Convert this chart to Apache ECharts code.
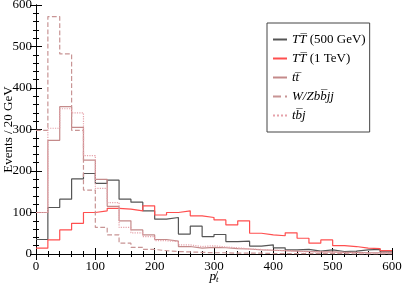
<!DOCTYPE html>
<html><head><meta charset="utf-8">
<script src="https://cdn.jsdelivr.net/npm/echarts@6/dist/echarts.min.js"></script>
<style>html,body{margin:0;padding:0;background:#fff}#c{width:403px;height:284px}</style>
</head><body><div id="c"></div>
<script>
var binLeft = [0,20,40,60,80,100,120,140,160,180,200,220,240,260,280,300,320,340,360,380,400,420,440,460,480,500,520,540,560,580];
var binEnd = 600;
var seriesNames = ['TT500','TT1000','tt','WZbbjj','tbj'];
var tt500 = [35,112,132,181,194,170,178,132,125,104,84,88,48,67,42,47,30,31,19,22,15,10,11,7,10,6,7,10,11,5];
var tt1000 = [14,34,58,74,100,104,110,108,104,116,94,100,104,92,88,82,70,80,50,46,44,51,38,26,34,20,18,14,13,8];
var ttbar = [100,274,355,305,226,180,115,80,58,46,35,31,18,14,16,15,13,12,10,9,8,7,6,5,5,4,4,3,3,2];
var wzbbjj = [298,572,482,298,154,64,46,26,16,11,8,6,5,4,3,3,2,2,2,1,1,1,1,1,1,1,0,0,0,0];
var tbj = [100,303,350,340,237,158,124,64,51,42,32,30,22,18,20,17,15,12,11,9,8,6,5,5,4,3,3,2,2,2];

function pts(vals){
  var out = binLeft.map(function(x,i){return [x, vals[i]];});
  out.push([binEnd, vals[vals.length-1]]);
  return out;
}
var serif = 'Liberation Serif';
var chart = echarts.init(document.getElementById('c'));
function mk(name, vals, color, type){
  return {name:name, type:'line', step:'end', data:pts(vals), symbol:'none', showSymbol:false,
    lineStyle:{color:color, width:1.2, type:type}, itemStyle:{color:color}, animation:false, z: 3};
}
var OV = '\u0305';
var labels = {
  TT500: '{i|TT'+OV+'} {n|(500 GeV)}',
  TT1000: '{i|TT'+OV+'} {n|(1 TeV)}',
  tt: '{i|tt'+OV+'}',
  WZbbjj: '{i|W/Zbb'+OV+'jj}',
  tbj: '{i|tb'+OV+'j}'
};
var axisCommon = {
  min:0, max:600, interval:100,
  axisLine:{show:true, lineStyle:{color:'#000', width:1}},
  axisTick:{show:true, inside:true, length:6, lineStyle:{color:'#000'}},
  minorTick:{show:true, splitNumber:5, length:3, lineStyle:{color:'#000'}},
  splitLine:{show:false}
};
chart.setOption({
  backgroundColor:'#fff',
  animation:false,
  grid:{left:36, right:11, top:5, bottom:30, outerBoundsMode:'none', containLabel:false},
  xAxis:[
    Object.assign({}, axisCommon, {type:'value', position:'bottom',
      axisLabel:{color:'#000', fontFamily:serif, fontSize:13, margin:6},
      name:'{p|p\u0338}{t|t}', nameLocation:'middle', nameGap:15, nameMoveOverlap:false,
      nameTextStyle:{rich:{p:{fontFamily:serif, fontStyle:'italic', fontSize:13, color:'#000'}, t:{fontFamily:serif, fontStyle:'italic', fontSize:9, color:'#000', verticalAlign:'bottom', padding:[6,0,0,0]}}}}),
    Object.assign({}, axisCommon, {type:'value', position:'top', axisLabel:{show:false}})
  ],
  yAxis:[
    Object.assign({}, axisCommon, {type:'value', position:'left',
      axisLabel:{color:'#000', fontFamily:serif, fontSize:13, margin:4},
      name:'Events / 20 GeV', nameLocation:'middle', nameGap:21, nameMoveOverlap:false,
      nameTextStyle:{fontFamily:serif, fontSize:13, color:'#000'}}),
    Object.assign({}, axisCommon, {type:'value', position:'right', axisLabel:{show:false}})
  ],
  legend:{
    orient:'vertical', left:267, top:23,
    data:seriesNames,
    backgroundColor:'#fff', borderColor:'#444', borderWidth:1,
    padding:[10,4,10,5], itemGap:6, itemWidth:14, itemHeight:14, itemTextGap:8,
    itemStyle:{color:'rgba(0,0,0,0)', borderWidth:0, opacity:0},
    formatter:function(n){return labels[n];},
    textStyle:{fontFamily:serif, fontSize:13, color:'#000',
      rich:{i:{fontFamily:serif, fontStyle:'italic', fontSize:13, color:'#000'}, n:{fontFamily:serif, fontSize:13, color:'#000'}}}
  },
  series:[
    mk('TT500', tt500, '#555555', 'solid'),
    mk('TT1000', tt1000, '#ff4f4f', 'solid'),
    mk('tt', ttbar, '#c48a8a', 'solid'),
    mk('WZbbjj', wzbbjj, '#c89494', 'dashed'),
    mk('tbj', tbj, '#e6a2aa', 'dotted')
  ]
});
</script></body></html>
